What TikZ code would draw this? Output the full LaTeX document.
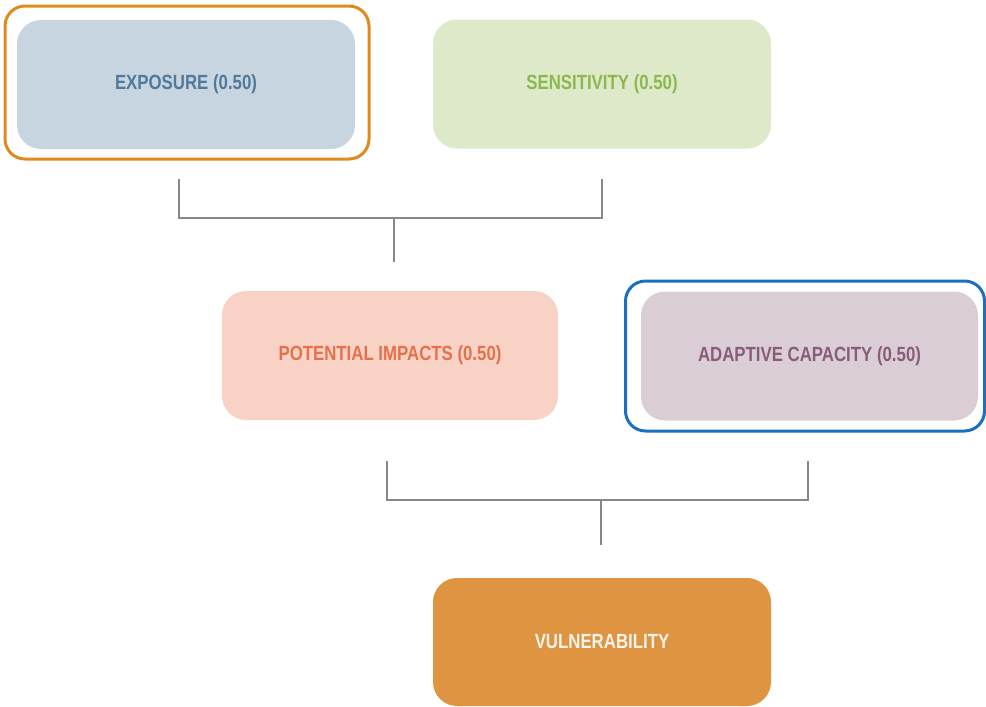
\documentclass[tikz,border=0pt]{standalone}
\usepackage{fontspec}
\setmainfont{Liberation Sans}[FakeStretch=0.82]
\definecolor{expfill}{HTML}{C7D5E0}
\definecolor{exptext}{HTML}{52799A}
\definecolor{senfill}{HTML}{DDE9C8}
\definecolor{sentext}{HTML}{8CB850}
\definecolor{potfill}{HTML}{F8D3C5}
\definecolor{pottext}{HTML}{E6704A}
\definecolor{adafill}{HTML}{DBCDD6}
\definecolor{adatext}{HTML}{875D78}
\definecolor{vulfill}{HTML}{DE9440}
\definecolor{vultext}{HTML}{FAF3EA}
\definecolor{ringorange}{HTML}{E08A1E}
\definecolor{ringblue}{HTML}{1A6FBE}
\definecolor{linegray}{HTML}{888888}
\begin{document}
\begin{tikzpicture}[x=1pt,y=-1pt,
  box/.style={rounded corners=24pt, draw=none, minimum width=338pt, minimum height=129pt,
    inner sep=0pt, font=\fontsize{20.5}{24}\selectfont\bfseries},
  ring/.style={rounded corners=20pt, line width=3pt, minimum width=#1, inner sep=0pt},
  link/.style={draw=linegray, line width=2pt}]
\useasboundingbox (0,0) rectangle (986,707);
% highlight rings
\node[ring=364pt, draw=ringorange, minimum height=153pt] (expring) at (187,82.5) {};
\node[ring=359pt, draw=ringblue, minimum height=150pt] (adaring) at (805,356) {};
% boxes
\node[box, fill=expfill, text=exptext] (exp) at (186,84.5) {EXPOSURE (0.50)};
\node[box, fill=senfill, text=sentext] (sen) at (602,84) {SENSITIVITY (0.50)};
\node[box, fill=potfill, text=pottext, minimum width=336pt] (pot) at (390,355.5) {POTENTIAL IMPACTS (0.50)};
\node[box, fill=adafill, text=adatext, minimum width=337pt] (ada) at (809.5,356) {ADAPTIVE CAPACITY (0.50)};
\node[box, fill=vulfill, text=vultext, minimum height=128pt] (vul) at (602,642) {VULNERABILITY};
% bracket 1
\coordinate (b1l) at (179,179);
\coordinate (b1r) at (602,179);
\coordinate (b1m) at (394,218);
\coordinate (b1s) at (394,262);
\draw[link] (b1l) |- (b1m) -| (b1r);
\draw[link] (b1m) -- (b1s);
% bracket 2
\coordinate (b2l) at (387,461);
\coordinate (b2r) at (808,461);
\coordinate (b2m) at (601,500);
\coordinate (b2s) at (601,545);
\draw[link] (b2l) |- (b2m) -| (b2r);
\draw[link] (b2m) -- (b2s);
\end{tikzpicture}
\end{document}
